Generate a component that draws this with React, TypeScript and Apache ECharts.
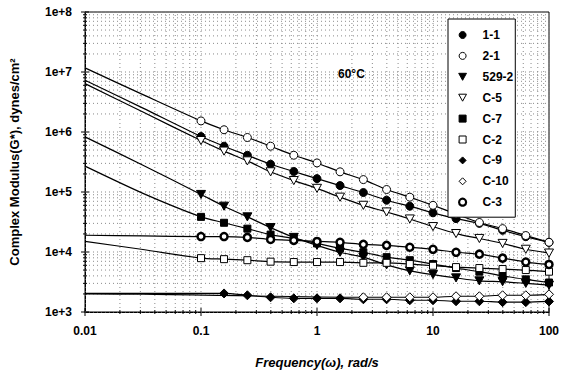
import React, { useEffect, useRef } from "react";
import * as echarts from "echarts";

const FONT = '"Liberation Sans", Arial, Helvetica, sans-serif';

// Measured frequencies (rad/s), 5 per decade
const freqs = [0.1, 0.158, 0.251, 0.398, 0.631, 1, 1.58, 2.51, 3.98, 6.31, 10, 15.8, 25.1, 39.8, 63.1, 100];

const seriesNames = ["1-1", "2-1", "529-2", "C-5", "C-7", "C-2", "C-9", "C-10", "C-3"];

// Complex modulus G* (dynes/cm2) at each frequency
const g11 = [8.4e5, 5.8e5, 4.1e5, 2.9e5, 2.2e5, 1.67e5, 1.28e5, 9.8e4, 7.3e4, 5.8e4, 4.5e4, 3.6e4, 3.0e4, 2.3e4, 1.8e4, 1.45e4];
const g21 = [1.53e6, 1.09e6, 8.1e5, 5.8e5, 4.1e5, 3.05e5, 2.17e5, 1.61e5, 1.1e5, 8.2e4, 6.0e4, 4.3e4, 3.1e4, 2.45e4, 1.88e4, 1.45e4];
const g5292 = [9.1e4, 5.8e4, 3.85e4, 2.55e4, 1.75e4, 1.29e4, 9.9e3, 8.2e3, 6.1e3, 4.85e3, 4.2e3, 3.7e3, 3.3e3, 3.2e3, 3.0e3, 2.8e3];
const gC5 = [7.2e5, 4.8e5, 3.3e5, 2.17e5, 1.55e5, 1.15e5, 8.2e4, 6.0e4, 4.65e4, 3.55e4, 2.65e4, 2.03e4, 1.68e4, 1.39e4, 1.11e4, 9.6e3];
const gC7 = [3.85e4, 3.07e4, 2.45e4, 1.95e4, 1.68e4, 1.39e4, 1.15e4, 9.9e3, 8.2e3, 7.3e3, 6.3e3, 5.4e3, 4.7e3, 4.0e3, 3.5e3, 3.1e3];
const gC2 = [7.9e3, 7.6e3, 7.3e3, 6.9e3, 6.8e3, 6.8e3, 6.8e3, 6.6e3, 6.6e3, 6.3e3, 5.9e3, 5.6e3, 5.4e3, 5.2e3, 5.0e3, 4.7e3];
const gC9 = [null, 2.04e3, 1.9e3, 1.76e3, 1.69e3, 1.69e3, 1.69e3, 1.63e3, 1.63e3, 1.57e3, 1.57e3, 1.51e3, 1.51e3, 1.46e3, 1.46e3, 1.5e3];
const gC10 = [null, null, null, null, null, null, null, 1.76e3, 1.76e3, 1.76e3, 1.76e3, 1.83e3, 1.83e3, 1.9e3, 1.9e3, 1.97e3];
const gC3 = [1.81e4, 1.81e4, 1.75e4, 1.62e4, 1.56e4, 1.5e4, 1.45e4, 1.34e4, 1.29e4, 1.2e4, 1.11e4, 9.9e3, 9.2e3, 7.9e3, 6.8e3, 6.2e3];

// Fitted-curve values at the low-frequency end
const fitFreqs = [0.01, 0.0316];
const fit11 = [7.3e6, 2.5e6];
const fit21 = [1.17e7, 4.2e6];
const fit5292 = [8.3e5, 2.8e5];
const fitC5 = [6.4e6, 2.15e6];
const fitC7 = [2.7e5, 9.5e4];
const fitC2 = [1.5e4, 1.1e4];
const fitC9 = [2.05e3, 2.04e3];
const fitC10 = [2.0e3, 1.98e3];
const fitC3 = [1.9e4, 1.85e4];

const xTickLabels = ["0.01", "0.1", "1", "10", "100"];
const yTickLabels = ["1e+3", "1e+4", "1e+5", "1e+6", "1e+7", "1e+8"];

const TRI_DOWN = "path://M0,0 L10,0 L5,9 Z";
const SQUARE = "path://M0,0 L10,0 L10,10 L0,10 Z";
const DIAMOND = "path://M5,0 L10,5 L5,10 L0,5 Z";

export default function App() {
  const ref = useRef<HTMLDivElement>(null);

  useEffect(() => {
    document.body.style.margin = "0";
    if (!ref.current) return;
    const chart = echarts.init(ref.current, undefined, { renderer: "svg" });

    const values: Record<string, (number | null)[]> = {
      "1-1": g11, "2-1": g21, "529-2": g5292, "C-5": gC5, "C-7": gC7,
      "C-2": gC2, "C-9": gC9, "C-10": gC10, "C-3": gC3,
    };
    const fits: Record<string, number[]> = {
      "1-1": fit11, "2-1": fit21, "529-2": fit5292, "C-5": fitC5, "C-7": fitC7,
      "C-2": fitC2, "C-9": fitC9, "C-10": fitC10, "C-3": fitC3,
    };
    const styles: Record<string, any> = {
      "1-1": { symbol: "circle", size: 8, color: "#000", bw: 1 },
      "2-1": { symbol: "circle", size: 8, color: "#fff", bw: 1 },
      "529-2": { symbol: TRI_DOWN, size: 9, color: "#000", bw: 1 },
      "C-5": { symbol: TRI_DOWN, size: 9, color: "#fff", bw: 1 },
      "C-7": { symbol: SQUARE, size: 7, color: "#000", bw: 1 },
      "C-2": { symbol: SQUARE, size: 7, color: "#fff", bw: 1 },
      "C-9": { symbol: DIAMOND, size: 9, color: "#000", bw: 1 },
      "C-10": { symbol: DIAMOND, size: 9, color: "#fff", bw: 1 },
      "C-3": { symbol: "circle", size: 7, color: "#fff", bw: 2.5 },
    };

    // grid lines / ticks at log positions
    const gridData: number[][] = [];
    for (let d = -2; d <= 1; d++) {
      for (let m = 1; m <= 9; m++) {
        gridData.push([m * Math.pow(10, d), 1e3, 0, m === 1 ? 1 : 0]);
      }
    }
    gridData.push([100, 1e3, 0, 1]);
    for (let d = 3; d <= 7; d++) {
      for (let m = 1; m <= 9; m++) {
        gridData.push([0.01, m * Math.pow(10, d), 1, m === 1 ? 1 : 0]);
      }
    }
    gridData.push([0.01, 1e8, 1, 1]);

    const gridSeries: any = {
      type: "custom",
      name: "grid",
      silent: true,
      z: 1,
      encode: { x: 0, y: 1 },
      data: gridData,
      renderItem: (params: any, api: any) => {
        const kind = api.value(2);
        const major = api.value(3) === 1;
        const len = major ? 4 : 2;
        const gStyle = { stroke: "#8a8a8a", lineWidth: 1, lineDash: [1, 3] };
        const tStyle = { stroke: "#000", lineWidth: 1 };
        if (kind === 0) {
          const v = api.value(0);
          const a = api.coord([v, 1e3]);
          const b = api.coord([v, 1e8]);
          return {
            type: "group",
            children: [
              { type: "line", shape: { x1: a[0], y1: a[1], x2: b[0], y2: b[1] }, style: gStyle },
              { type: "line", shape: { x1: a[0], y1: a[1] - len, x2: a[0], y2: a[1] + len }, style: tStyle },
            ],
          };
        }
        const v = api.value(1);
        const a = api.coord([0.01, v]);
        const b = api.coord([100, v]);
        return {
          type: "group",
          children: [
            { type: "line", shape: { x1: a[0], y1: a[1], x2: b[0], y2: b[1] }, style: gStyle },
            { type: "line", shape: { x1: a[0] - len, y1: a[1], x2: a[0] + len, y2: a[1] }, style: tStyle },
          ],
        };
      },
    };

    const lineSeries = seriesNames.map((n) => {
      const pts: number[][] = fitFreqs.map((f, i) => [f, fits[n][i]]);
      freqs.forEach((f, i) => {
        const v = values[n][i];
        if (v != null) pts.push([f, v]);
      });
      return {
        type: "line",
        name: n + " fit",
        data: pts,
        symbol: "none",
        smooth: 0.25,
        z: 2,
        silent: true,
        lineStyle: { color: "#000", width: 1.2 },
      };
    });

    const scatterSeries = seriesNames.map((n) => {
      const s = styles[n];
      const pts: number[][] = [];
      freqs.forEach((f, i) => {
        const v = values[n][i];
        if (v != null) pts.push([f, v]);
      });
      return {
        type: "scatter",
        name: n,
        data: pts,
        symbol: s.symbol,
        symbolSize: s.size,
        symbolKeepAspect: true,
        z: 3,
        itemStyle: { color: s.color, borderColor: "#000", borderWidth: s.bw, opacity: 1 },
      };
    });

    const option: any = {
      animation: false,
      backgroundColor: "#fff",
      textStyle: { fontFamily: FONT },
      grid: {
        left: 81, top: 12, right: 19, bottom: 56,
        show: true, borderColor: "#000", borderWidth: 1, backgroundColor: "transparent",
      },
      xAxis: {
        type: "log", logBase: 10, min: 0.01, max: 100,
        name: "Frequency(\u03c9), rad/s",
        nameLocation: "middle", nameGap: 44,
        nameTextStyle: { fontWeight: "bold", fontStyle: "italic", fontSize: 13, color: "#000", fontFamily: FONT },
        axisLine: { lineStyle: { color: "#000", width: 1 } },
        axisTick: { show: false },
        splitLine: { show: false },
        axisLabel: {
          fontWeight: "bold", fontSize: 12, color: "#000", margin: 13, fontFamily: FONT,
          formatter: (v: number) => xTickLabels[Math.round(Math.log10(v)) + 2] ?? "",
        },
      },
      yAxis: {
        type: "log", logBase: 10, min: 1e3, max: 1e8,
        name: "Complex Modulus(G*), dynes/cm\u00b2",
        nameLocation: "middle", nameGap: 64,
        nameTextStyle: { fontWeight: "bold", fontSize: 13, color: "#000", fontFamily: FONT },
        axisLine: { lineStyle: { color: "#000", width: 1 } },
        axisTick: { show: false },
        splitLine: { show: false },
        axisLabel: {
          fontWeight: "bold", fontSize: 12, color: "#000", margin: 13, fontFamily: FONT,
          formatter: (v: number) => yTickLabels[Math.round(Math.log10(v)) - 3] ?? "",
        },
      },
      legend: {
        orient: "vertical",
        left: 448, top: 19,
        padding: [10, 2, 9, 10],
        itemWidth: 30, itemHeight: 7, itemGap: 8.9,
        backgroundColor: "#fff", borderColor: "#000", borderWidth: 1,
        selectedMode: false,
        z: 10,
        textStyle: { fontWeight: "bold", fontSize: 12, color: "#000", fontFamily: FONT },
        data: seriesNames.map((n) => ({
          name: n,
          itemStyle: { borderWidth: styles[n].bw === 1 ? 1 : 2.2, borderColor: "#000", color: styles[n].color },
        })),
      },
      graphic: [
        {
          type: "text", left: 338, top: 68, z: 10,
          style: { text: "60\u00b0C", font: `bold 12px ${FONT}`, fill: "#000" },
        },
      ],
      series: [gridSeries, ...lineSeries, ...scatterSeries],
    };

    chart.setOption(option);
    return () => chart.dispose();
  }, []);

  return <div ref={ref} style={{ position: "absolute", left: 0, top: 0, width: 568, height: 374 }} />;
}
